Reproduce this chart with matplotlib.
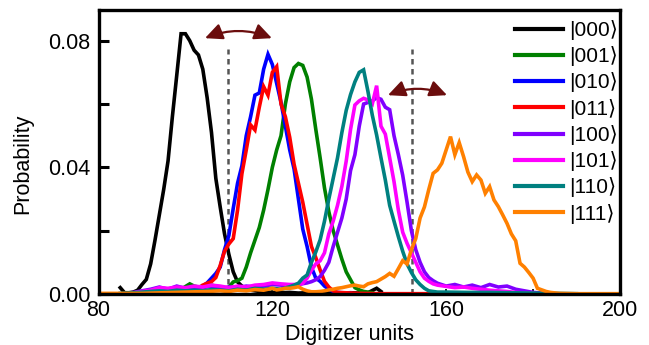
import matplotlib
matplotlib.use("Agg")
import matplotlib.pyplot as plt
from matplotlib.patches import FancyArrowPatch
from matplotlib.ticker import MultipleLocator

plt.rcParams['font.family'] = ['Liberation Sans', 'DejaVu Sans']

# ---------------- data ----------------
labels = ["|000\u27e9", "|001\u27e9", "|010\u27e9", "|011\u27e9",
          "|100\u27e9", "|101\u27e9", "|110\u27e9", "|111\u27e9"]
colors = ["#000000", "#008000", "#0000FF", "#FF0000",
          "#8000FF", "#FF00FF", "#008080", "#FF8000"]

x_000 = [85, 86, 87, 88, 89, 90, 91, 92, 93, 94, 95, 96, 97, 98, 99, 100, 101, 102, 103, 104,
         105, 106, 107, 108, 109, 110, 111, 112, 113, 114, 115, 116, 117, 118,
         120, 122, 124, 126, 128, 130, 132, 134, 136, 138, 140, 142, 144, 145]
p_000 = [0.0020, 0.0004, 0.0004, 0.0006, 0.0012, 0.0030, 0.0046, 0.0095, 0.0170, 0.0250,
         0.0330, 0.0420, 0.0560, 0.0690, 0.0822, 0.0822, 0.0800, 0.0770, 0.0755, 0.0710,
         0.0620, 0.0510, 0.0365, 0.0275, 0.0190, 0.0125, 0.0070, 0.0038, 0.0025, 0.0018,
         0.0012, 0.0010, 0.0008, 0.0006,
         0.0005, 0.0004, 0.0005, 0.0003, 0.0004, 0.0003, 0.0004, 0.0003, 0.0003, 0.0004,
         0.0003, 0.0004, 0.0018, 0.0008]

x_001 = [95, 97, 99, 101, 102, 103, 104, 105, 106, 107, 108, 109, 110, 111, 112, 113, 114,
         115, 116, 117, 118, 119, 120, 121, 122, 123, 124, 125, 126, 127, 128, 129, 130,
         131, 132, 133, 134, 135, 136, 137, 138, 139, 140, 141, 142, 143]
p_001 = [0.0005, 0.0010, 0.0015, 0.0032, 0.0025, 0.0022, 0.0025, 0.0025, 0.0028, 0.0025,
         0.0020, 0.0012, 0.0022, 0.0038, 0.0042, 0.0050, 0.0085, 0.0130, 0.0170, 0.0210,
         0.0265, 0.0330, 0.0400, 0.0455, 0.0500, 0.0600, 0.0670, 0.0715, 0.0728, 0.0722,
         0.0685, 0.0615, 0.0520, 0.0430, 0.0335, 0.0260, 0.0200, 0.0155, 0.0110, 0.0070,
         0.0045, 0.0020, 0.0013, 0.0008, 0.0006, 0.0004]

x_010 = [100, 102, 104, 105, 106, 107, 108, 109, 110, 111, 112, 113, 114, 115, 116, 117,
         118, 119, 120, 121, 122, 123, 124, 125, 126, 127, 128, 129, 130, 131, 132, 133,
         134, 135, 136, 138]
p_010 = [0.0010, 0.0015, 0.0025, 0.0035, 0.0050, 0.0065, 0.0085, 0.0140, 0.0185, 0.0270,
         0.0350, 0.0405, 0.0500, 0.0560, 0.0628, 0.0635, 0.0710, 0.0757, 0.0725, 0.0665,
         0.0605, 0.0530, 0.0455, 0.0395, 0.0300, 0.0205, 0.0150, 0.0085, 0.0050, 0.0040,
         0.0025, 0.0015, 0.0008, 0.0005, 0.0004, 0.0003]

x_011 = [104, 105, 106, 107, 108, 109, 110, 111, 112, 113, 114, 115, 116, 117, 118, 119,
         120, 121, 122, 123, 124, 125, 126, 127, 128, 129, 130, 131, 132, 133, 134, 135,
         140, 145, 150, 155, 160, 165, 170, 175, 180]
p_011 = [0.0028, 0.0034, 0.0039, 0.0052, 0.0090, 0.0135, 0.0158, 0.0175, 0.0265, 0.0380,
         0.0455, 0.0534, 0.0518, 0.0590, 0.0655, 0.0628, 0.0700, 0.0718, 0.0600, 0.0560,
         0.0495, 0.0410, 0.0350, 0.0290, 0.0220, 0.0150, 0.0115, 0.0076, 0.0040, 0.0022,
         0.0010, 0.0005, 0.0002, 0.0001, 0.0001, 0.0001, 0.0001, 0.0001, 0.0001, 0.0001,
         0.0001]

x_100 = [88, 90, 92, 94, 96, 98, 100, 102, 104, 106, 108, 110, 112, 114, 116, 118, 120,
         122, 124, 126, 128, 129, 130, 131, 132, 133, 134, 135, 136, 137, 138, 139, 140,
         141, 142, 143, 144, 145, 146, 147, 148, 149, 150, 151, 152, 153, 154, 155, 156,
         157, 158, 160, 162, 164, 166, 168, 170, 172, 174, 176, 178, 180, 183]
p_100 = [0.0005, 0.0010, 0.0015, 0.0022, 0.0015, 0.0025, 0.0018, 0.0022, 0.0020, 0.0025,
         0.0018, 0.0022, 0.0020, 0.0025, 0.0022, 0.0025, 0.0030, 0.0028, 0.0025, 0.0030,
         0.0035, 0.0039, 0.0045, 0.0055, 0.0075, 0.0100, 0.0150, 0.0195, 0.0240, 0.0300,
         0.0390, 0.0440, 0.0530, 0.0600, 0.0605, 0.0610, 0.0620, 0.0615, 0.0590, 0.0582,
         0.0500, 0.0440, 0.0375, 0.0290, 0.0200, 0.0140, 0.0100, 0.0070, 0.0052, 0.0042,
         0.0034, 0.0025, 0.0030, 0.0022, 0.0028, 0.0020, 0.0030, 0.0022, 0.0025, 0.0015,
         0.0010, 0.0005, 0.0002]

x_101 = [88, 90, 92, 94, 96, 98, 100, 102, 104, 106, 108, 110, 112, 114, 116, 118, 120,
         122, 124, 126, 127, 128, 129, 130, 131, 132, 133, 134, 135, 136, 137, 138, 139,
         140, 141, 142, 143, 144, 145, 146, 147, 148, 149, 150, 151, 152, 153, 154, 155,
         156, 157, 158, 160, 162, 164, 166, 168, 170, 172, 174, 176, 178, 180]
p_101 = [0.0003, 0.0008, 0.0012, 0.0020, 0.0018, 0.0022, 0.0020, 0.0025, 0.0022, 0.0028,
         0.0025, 0.0020, 0.0025, 0.0022, 0.0028, 0.0030, 0.0035, 0.0032, 0.0030, 0.0030,
         0.0034, 0.0050, 0.0075, 0.0095, 0.0105, 0.0130, 0.0190, 0.0230, 0.0280, 0.0340,
         0.0420, 0.0520, 0.0597, 0.0610, 0.0618, 0.0613, 0.0600, 0.0658, 0.0530, 0.0505,
         0.0430, 0.0355, 0.0265, 0.0195, 0.0160, 0.0130, 0.0100, 0.0070, 0.0050, 0.0040,
         0.0032, 0.0028, 0.0024, 0.0020, 0.0022, 0.0018, 0.0015, 0.0012, 0.0010, 0.0008,
         0.0005, 0.0003, 0.0002]

x_110 = [85, 88, 90, 92, 94, 96, 98, 100, 102, 104, 106, 108, 110, 112, 114, 116, 118, 120,
         122, 124, 125, 126, 127, 128, 129, 130, 131, 132, 133, 134, 135, 136, 137, 138,
         139, 140, 141, 142, 143, 144, 145, 146, 147, 148, 149, 150, 151, 152, 153, 154,
         155, 156, 157, 158, 160, 165, 170, 175, 180, 185, 190]
p_110 = [0.0002, 0.0004, 0.0006, 0.0008, 0.0010, 0.0008, 0.0012, 0.0010, 0.0012, 0.0010,
         0.0014, 0.0012, 0.0010, 0.0015, 0.0012, 0.0018, 0.0015, 0.0018, 0.0015, 0.0023,
         0.0028, 0.0034, 0.0050, 0.0060, 0.0100, 0.0133, 0.0171, 0.0230, 0.0300, 0.0365,
         0.0430, 0.0510, 0.0580, 0.0630, 0.0670, 0.0700, 0.0708, 0.0640, 0.0565, 0.0502,
         0.0430, 0.0360, 0.0280, 0.0230, 0.0181, 0.0135, 0.0095, 0.0068, 0.0045, 0.0030,
         0.0018, 0.0010, 0.0008, 0.0006, 0.0006, 0.0005, 0.0005, 0.0004, 0.0003, 0.0002,
         0.0001]

x_111 = [80, 85, 90, 95, 100, 105, 108, 110, 112, 114, 116, 118, 120,
         121, 122, 123, 124, 125, 126, 127, 128, 129, 130,
         131, 132, 133, 134, 135, 136, 137, 138, 139, 140,
         141, 142, 143, 144, 145, 146, 147, 148, 149, 150,
         151, 152, 153, 154, 155, 156, 157, 158, 159, 160,
         161, 162, 163, 164, 165, 166, 167, 168, 169, 170,
         171, 172, 173, 174, 175, 176, 177, 178, 179, 180,
         181, 182, 183, 184, 186, 190, 195, 200]
p_111 = [0.0002, 0.0002, 0.0002, 0.0004, 0.0006, 0.0008, 0.0010, 0.0008, 0.0012, 0.0010,
         0.0014, 0.0012, 0.0018,
         0.0013, 0.0015, 0.0018, 0.0018, 0.0020, 0.0023, 0.0015, 0.0010, 0.0007, 0.0007,
         0.0008, 0.0010, 0.0013, 0.0015, 0.0018, 0.0020, 0.0023, 0.0026, 0.0028, 0.0025,
         0.0023, 0.0032, 0.0036, 0.0039, 0.0047, 0.0055, 0.0065, 0.0056, 0.0080, 0.0105,
         0.0095, 0.0140, 0.0175, 0.0240, 0.0275, 0.0330, 0.0381, 0.0392, 0.0413, 0.0455,
         0.0497, 0.0440, 0.0478, 0.0434, 0.0385, 0.0355, 0.0376, 0.0360, 0.0318, 0.0339,
         0.0297, 0.0276, 0.0250, 0.0223, 0.0190, 0.0168, 0.0097, 0.0085, 0.0068, 0.0050,
         0.0018, 0.0013, 0.0008, 0.0005, 0.0002, 0.0001, 0.0001, 0.0001]

series_x = [x_000, x_001, x_010, x_011, x_100, x_101, x_110, x_111]
series_p = [p_000, p_001, p_010, p_011, p_100, p_101, p_110, p_111]

threshold_x = [109.8, 152.1]
threshold_top = 0.0774
arrow_spans = [(104.5, 119.9, 0.0808), (146.6, 160.2, 0.0628)]

# ---------------- figure ----------------
fig = plt.figure(figsize=(6.49, 3.45), dpi=100)
ax = fig.add_axes([98.5 / 649, 1 - 294 / 345, (620 - 98.5) / 649, (294 - 10) / 345])

for xs, ps, lab, col in zip(series_x, series_p, labels, colors):
    ax.plot(xs, ps, color=col, lw=2.6, label=lab, solid_joinstyle='miter')

for tx in threshold_x:
    ax.plot([tx, tx], [0, threshold_top], color="#555555", lw=1.8,
            linestyle=(0, (2.2, 1.8)), zorder=1)

for x0, x1, yy in arrow_spans:
    arr = FancyArrowPatch((x0, yy), (x1, yy), connectionstyle="arc3,rad=-0.2",
                          arrowstyle="<|-|>,head_length=0.75,head_width=0.35",
                          mutation_scale=14, color="#6B0D0D", lw=1.6,
                          shrinkA=0, shrinkB=0, zorder=5)
    ax.add_patch(arr)

ax.set_xlim(80, 200)
ax.set_ylim(0, 0.0897)
ax.set_xticks([80, 120, 160, 200])
ax.xaxis.set_minor_locator(MultipleLocator(20))
ax.set_yticks([0.0, 0.04, 0.08])
ax.set_yticklabels(["0.00", "0.04", "0.08"])
ax.yaxis.set_minor_locator(MultipleLocator(0.02))

ax.tick_params(axis='y', which='both', direction='in', length=7, width=2.2,
               labelsize=15.5, pad=6, right=False)
ax.tick_params(axis='x', which='both', direction='in', length=3.5, width=1.2,
               labelsize=15.5, pad=4, top=False)

for sp in ax.spines.values():
    sp.set_linewidth(2.4)

ax.set_xlabel("Digitizer units", fontsize=15.5)
ax.set_ylabel("Probability", fontsize=15.5)
ax.xaxis.set_label_coords(0.482, -0.105)
ax.yaxis.set_label_coords(-0.125, 0.458)

leg = ax.legend(loc='upper right', bbox_to_anchor=(0.997, 0.965), frameon=False,
                fontsize=15, handlelength=2.3, handletextpad=0.3,
                labelspacing=0.3, borderaxespad=0.0, borderpad=0.0)
for line in leg.get_lines():
    line.set_linewidth(3)

fig.savefig("out.png", dpi=100)
